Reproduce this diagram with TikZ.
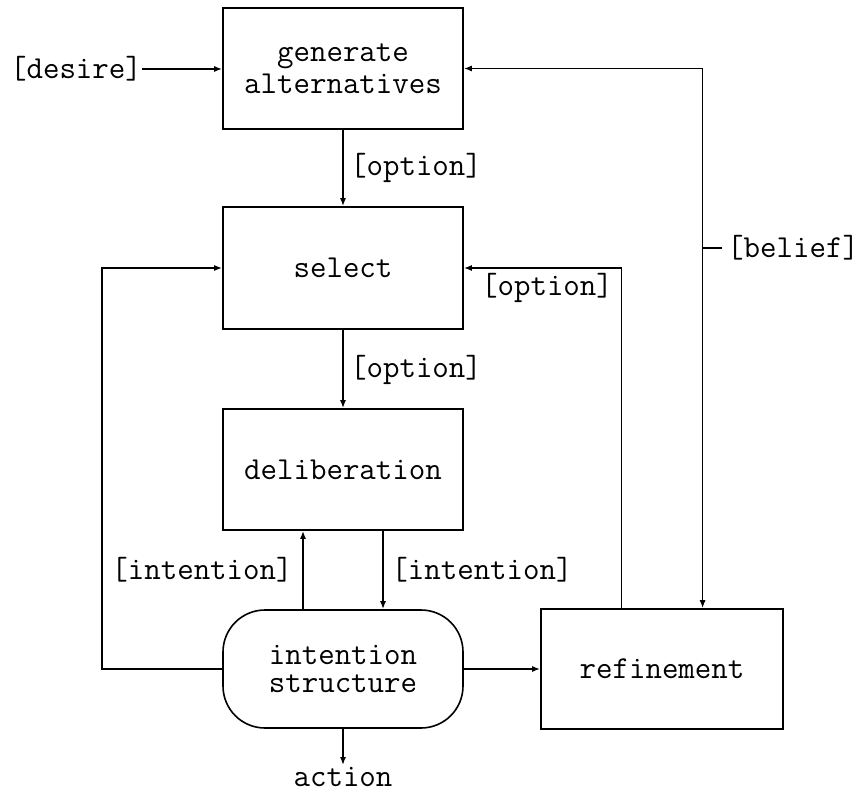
\documentclass[tikz,border=0pt]{standalone}
\usetikzlibrary{arrows.meta,calc}
\begin{document}
\begin{tikzpicture}[x=1pt,y=-1pt,
  font=\ttfamily\fontsize{32}{32}\selectfont,
  blk/.style={draw,line width=1.6pt,minimum width=240pt,inner sep=0pt,align=center},
  arr/.style={line width=1.5pt,-{Latex[length=8pt,width=6pt]}},
  wire/.style={line width=1.6pt},
  lbl/.style={inner sep=0pt}]
\useasboundingbox (0,0) rectangle (860,794);

% processing blocks
\node[blk,minimum height=121pt] (gen) at (343,68.5) {generate\\alternatives};
\node[blk,minimum height=122pt] (sel) at (343,268) {select};
\node[blk,minimum height=121pt] (del) at (343,469.5) {deliberation};
\node[blk,minimum height=118pt,rounded corners=42pt] (ist) at (343,669) {intention\\[-4pt]structure};
\node[blk,minimum width=242pt,minimum height=120pt] (ref) at (662,669) {refinement};

% data labels
\node[lbl] (des) at (76,69) {[desire]};
\node[lbl] (o1) at (416,168) {[option]};
\node[lbl] (o2) at (416,370) {[option]};
\node[lbl] (o3) at (547,288) {[option]};
\node[lbl] (i1) at (202,570) {[intention]};
\node[lbl] (i2) at (482,570) {[intention]};
\node[lbl,anchor=west,inner xsep=5pt] (bel) at (722,248) {[belief]};
\node[lbl,anchor=base] (act) at (343,786) {action};
\coordinate (actin) at (343,765);

% taps on top of refinement
\coordinate (ro) at ($(ref.north west)!1/3!(ref.north east)$);
\coordinate (rb) at ($(ref.north west)!2/3!(ref.north east)$);

% connectors
\draw[arr] (des.east) -- (des.east -| gen.west);
\draw[arr] (gen.south) -- (sel.north);
\draw[arr] (sel.south) -- (del.north);
\draw[arr] ([xshift=-40pt]ist.north) -- ([xshift=-40pt]del.south);
\draw[arr] ([xshift=40pt]del.south) -- ([xshift=40pt]ist.north);
\draw[arr] (ist.west) -- ++(-120,0) |- (sel.west);
\draw[arr,line width=1.8pt] (ist.east) -- (ref.west);
\draw[arr] (ist.south) -- (actin);
\draw[arr] (ro) |- (sel.east);
\draw[arr] (rb |- gen.east) -- (gen.east);
\draw[arr] (rb |- gen.east) -- (rb);
\draw[wire] (rb |- bel.west) -- (bel.west);
\end{tikzpicture}
\end{document}
